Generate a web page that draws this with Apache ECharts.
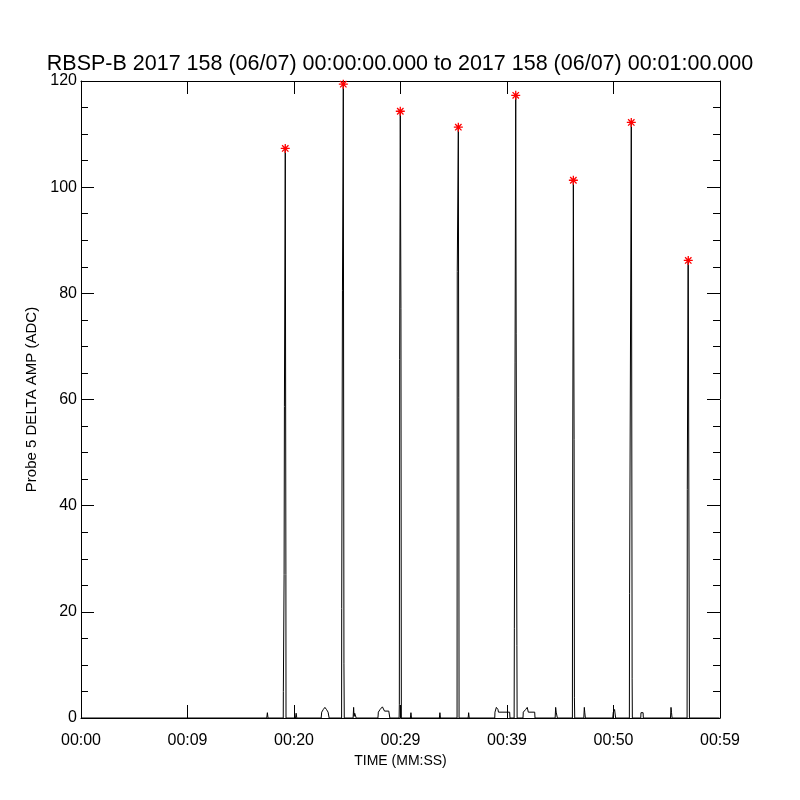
<!DOCTYPE html>
<html>
<head>
<meta charset="utf-8">
<script src="https://cdn.jsdelivr.net/npm/echarts@6/dist/echarts.min.js"></script>
<style>
html,body{margin:0;padding:0;background:#fff;}
#chart{width:800px;height:800px;}
</style>
</head>
<body>
<div id="chart"></div>
<script>
// ---- Data (seconds after 00:00:00, ADC values) ----
var titleText = 'RBSP-B 2017 158 (06/07) 00:00:00.000 to 2017 158 (06/07) 00:01:00.000';
var xTickLabels = ['00:00', '00:09', '00:20', '00:29', '00:39', '00:50', '00:59'];
var xName = 'TIME (MM:SS)';
var yName = 'Probe 5 DELTA AMP (ADC)';

var times = [
  0, 17.44, 17.5, 17.56,
  18.99, 19.0, 19.07, 19.1, 19.18, 19.24, 19.25,
  20.14, 20.2, 20.26,
  22.55, 22.6, 22.75, 22.9, 23.05, 23.2, 23.3,
  24.47, 24.48, 24.55, 24.63, 24.69, 24.72,
  25.55, 25.6, 25.64, 25.7, 25.8, 25.84,
  27.88, 27.92, 28.08, 28.3, 28.43, 28.5, 28.9, 29.0,
  29.87, 29.89, 29.92, 29.98, 30.04, 30.08,
  30.93, 30.98, 31.03,
  33.65, 33.7, 33.75,
  35.31, 35.33, 35.43, 35.47, 35.5,
  36.35, 36.4, 36.45,
  38.85, 38.87, 39.0, 39.15, 39.2, 40.25, 40.28,
  40.67, 40.69, 40.82, 40.86, 40.93, 40.95,
  41.5, 41.53, 41.75, 41.9, 42.0, 42.6, 42.63,
  44.52, 44.57, 44.62, 44.7, 44.73,
  46.14, 46.16, 46.23, 46.3, 46.33, 46.36,
  47.21, 47.26, 47.3, 47.36,
  49.93, 49.98, 50.1, 50.2,
  51.49, 51.51, 51.67, 51.7, 51.75, 51.77,
  52.56, 52.58, 52.78, 52.8,
  55.35, 55.4, 55.45, 55.5,
  56.91, 56.93, 57.0, 57.02, 57.13,
  59.95
];
var values = [
  0, 0, 1.0, 0,
  0, 5, 27, 58.7, 107.3, 27, 0,
  0, 0.9, 0,
  0, 1.1, 1.6, 2.0, 1.6, 1.1, 0,
  0, 20.6, 80.6, 119.4, 10.2, 0,
  0, 2.0, 0.3, 0.9, 0.9, 0,
  0, 1.1, 1.6, 2.1, 2.1, 1.3, 1.3, 0,
  0, 2.5, 67.5, 114.3, 77.1, 0,
  0, 1.0, 0,
  0, 1.0, 0,
  0, 84.1, 111.3, 60.3, 0,
  0, 1.0, 0,
  0, 1.1, 2.0, 1.6, 1.1, 1.1, 0,
  0, 16.8, 117.3, 72.5, 13.7, 0,
  0, 1.1, 1.6, 2.0, 1.1, 1.1, 0,
  0, 2.0, 1.1, 1.1, 0,
  0, 37.1, 101.3, 52.5, 3.8, 0,
  0, 2.0, 1.1, 0,
  0, 1.1, 1.6, 0,
  0, 23.4, 112.2, 79.5, 7.5, 0,
  0, 1.0, 1.0, 0,
  0, 2.0, 1.0, 0,
  0, 43, 85.2, 86.2, 0,
  0
];

var peakTimes = [19.18, 24.63, 29.98, 35.43, 40.82, 46.23, 51.67, 57.02];
var peakValues = [107.3, 119.4, 114.3, 111.3, 117.3, 101.3, 112.2, 86.2];

// ---- Build chart ----
var lineData = times.map(function (t, i) { return [t, values[i]]; });
var peakData = peakTimes.map(function (t, i) { return [t, peakValues[i]]; });

var FONT = 'Liberation Sans';
var chart = echarts.init(document.getElementById('chart'), null, {renderer: 'canvas'});

var axisLineStyle = {show: true, onZero: false, lineStyle: {color: '#000', width: 1}};

chart.setOption({
  animation: false,
  backgroundColor: '#fff',
  title: {
    text: titleText,
    left: 'center',
    top: 53,
    padding: 0,
    textStyle: {fontFamily: FONT, fontSize: 21.5, fontWeight: 'normal', color: '#000'}
  },
  grid: {left: 81, right: 80, top: 81, bottom: 82, containLabel: false},
  xAxis: [{
    type: 'value', min: 0, max: 60, interval: 10, position: 'bottom',
    name: xName, nameLocation: 'middle', nameGap: 33,
    nameTextStyle: {fontFamily: FONT, fontSize: 14, color: '#000'},
    axisLine: axisLineStyle,
    axisTick: {show: true, inside: true, length: 13, lineStyle: {color: '#000'}},
    axisLabel: {
      show: true, margin: 15, fontFamily: FONT, fontSize: 16, color: '#000',
      formatter: function (v) { return xTickLabels[Math.round(v / 10)]; }
    },
    splitLine: {show: false}
  }, {
    type: 'value', min: 0, max: 60, interval: 10, position: 'top',
    axisLine: axisLineStyle,
    axisTick: {show: true, inside: true, length: 13, lineStyle: {color: '#000'}},
    axisLabel: {show: false},
    splitLine: {show: false}
  }],
  yAxis: [{
    type: 'value', min: 0, max: 120, interval: 20, position: 'left',
    name: yName, nameLocation: 'middle', nameGap: 36,
    nameTextStyle: {fontFamily: FONT, fontSize: 15, color: '#000'},
    axisLine: axisLineStyle,
    axisTick: {show: true, inside: true, length: 13, lineStyle: {color: '#000'}},
    minorTick: {show: true, splitNumber: 4, length: 7, lineStyle: {color: '#000'}},
    axisLabel: {show: true, margin: 4, fontFamily: FONT, fontSize: 16, color: '#000'},
    splitLine: {show: false}
  }, {
    type: 'value', min: 0, max: 120, interval: 20, position: 'right',
    axisLine: axisLineStyle,
    axisTick: {show: true, inside: true, length: 13, lineStyle: {color: '#000'}},
    minorTick: {show: true, splitNumber: 4, length: 7, lineStyle: {color: '#000'}},
    axisLabel: {show: false},
    splitLine: {show: false}
  }],
  series: [{
    type: 'line',
    xAxisIndex: 0, yAxisIndex: 0,
    data: lineData,
    showSymbol: false,
    symbol: 'none',
    lineStyle: {color: '#000', width: 1},
    smooth: false,
    z: 2
  }, {
    type: 'scatter',
    xAxisIndex: 0, yAxisIndex: 0,
    data: peakData,
    symbol: 'path://M0,4.5L9,4.5M4.5,0L4.5,9M1.3,1.3L7.7,7.7M7.7,1.3L1.3,7.7',
    symbolSize: 9,
    itemStyle: {color: '#ff0000', borderColor: '#ff0000', borderWidth: 1.3, opacity: 1},
    z: 5
  }]
});
</script>
</body>
</html>
